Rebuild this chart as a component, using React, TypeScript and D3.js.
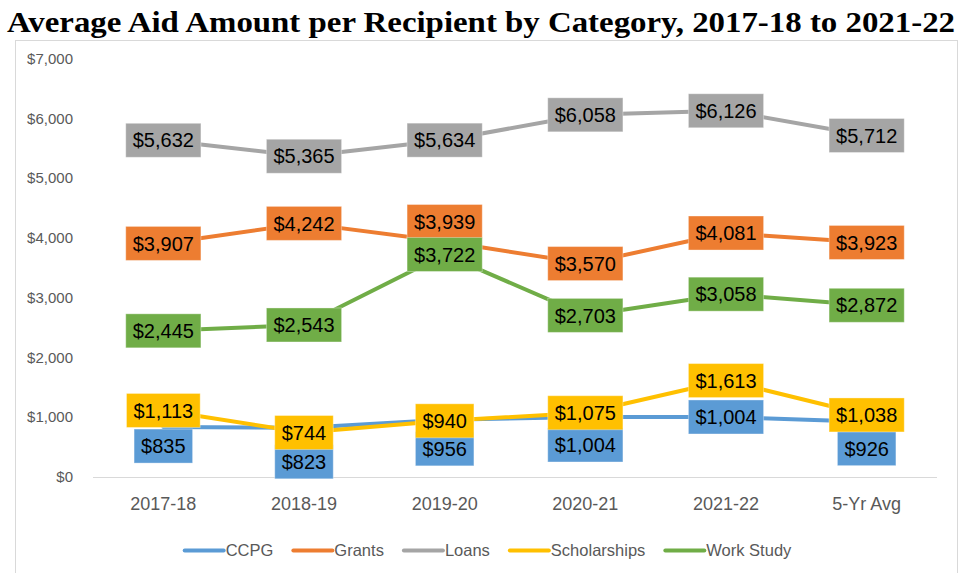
import React, { useEffect, useRef } from 'react';
import * as d3 from 'd3';

const categories = ['2017-18', '2018-19', '2019-20', '2020-21', '2021-22', '5-Yr Avg'];
const ccpg = [835, 823, 956, 1004, 1004, 926];
const grants = [3907, 4242, 3939, 3570, 4081, 3923];
const loans = [5632, 5365, 5634, 6058, 6126, 5712];
const scholarships = [1113, 744, 940, 1075, 1613, 1038];
const workStudy = [2445, 2543, 3722, 2703, 3058, 2872];
const seriesNames = ['CCPG', 'Grants', 'Loans', 'Scholarships', 'Work Study'];
const yTicks = [0, 1000, 2000, 3000, 4000, 5000, 6000, 7000];
const title = 'Average Aid Amount per Recipient by Category, 2017-18 to 2021-22';

// styling / layout (kept apart from the data)
const colors = ['#5B9BD5', '#ED7D31', '#A5A5A5', '#FFC000', '#70AD47'];
const labelShift = [
  [19, 34, 29, 28, 0, 27],
  [0, 0, -20, 0, 0, 0],
  [0, 0, 0, 0, 0, 0],
  [0, 0, 0, 0, 0, 0],
  [0, 0, 0, 0, 0, 0],
];

const W = 966;
const H = 573;
const FONT = '"Liberation Sans", Arial, sans-serif';

export default function App() {
  const ref = useRef<SVGSVGElement | null>(null);

  useEffect(() => {
    const svg = d3.select(ref.current);
    svg.selectAll('*').remove();

    const values = [ccpg, grants, loans, scholarships, workStudy];

    svg.append('rect').attr('width', W).attr('height', H).attr('fill', '#fff');

    // chart border
    svg.append('rect')
      .attr('x', 15.5).attr('y', 40.5).attr('width', 942).attr('height', 560)
      .attr('fill', 'none').attr('stroke', '#D9D9D9').attr('stroke-width', 1);

    // title
    svg.append('text')
      .attr('x', 7).attr('y', 32)
      .attr('font-family', '"Liberation Serif", "Times New Roman", serif')
      .attr('font-weight', 'bold').attr('font-size', 30)
      .attr('textLength', 948).attr('lengthAdjust', 'spacingAndGlyphs')
      .attr('fill', '#000')
      .text(title);

    const x = d3.scaleBand<string>().domain(categories).range([93, 937]);
    const cx = (c: string) => (x(c) as number) + x.bandwidth() / 2;
    const y = d3.scaleLinear().domain([0, 7000]).range([477, 58.5]);

    // y tick labels
    svg.append('g').selectAll('text').data(yTicks).join('text')
      .attr('x', 73).attr('y', (d) => y(d)).attr('dy', '0.35em')
      .attr('text-anchor', 'end')
      .attr('font-family', FONT).attr('font-size', 15).attr('fill', '#595959')
      .text((d) => d3.format('$,')(d));

    // axis line
    svg.append('line')
      .attr('x1', 93).attr('x2', 937)
      .attr('y1', y(0) + 0.5).attr('y2', y(0) + 0.5)
      .attr('stroke', '#D9D9D9').attr('stroke-width', 1);

    // x labels
    svg.append('g').selectAll('text').data(categories).join('text')
      .attr('x', (d) => cx(d)).attr('y', 510)
      .attr('text-anchor', 'middle')
      .attr('font-family', FONT).attr('font-size', 18).attr('fill', '#595959')
      .text((d) => d);

    // lines
    const line = d3.line<number>()
      .x((_, i) => cx(categories[i]))
      .y((d) => y(d));
    values.forEach((vals, s) => {
      svg.append('path')
        .attr('d', line(vals) as string)
        .attr('fill', 'none')
        .attr('stroke', colors[s])
        .attr('stroke-width', 4)
        .attr('stroke-linejoin', 'round')
        .attr('stroke-linecap', 'round');
    });

    // data labels
    const fmt = d3.format('$,');
    values.forEach((vals, s) => {
      vals.forEach((v, i) => {
        const px = cx(categories[i]);
        const py = y(v) + labelShift[s][i];
        const g = svg.append('g');
        const rect = g.append('rect');
        const t = g.append('text')
          .attr('x', px).attr('y', py).attr('dy', '0.36em')
          .attr('text-anchor', 'middle')
          .attr('font-family', FONT).attr('font-size', 20).attr('fill', '#000')
          .text(fmt(v));
        const tw = (t.node() as SVGTextElement).getComputedTextLength();
        const bw = tw + 14;
        rect.attr('x', px - bw / 2).attr('y', py - 17)
          .attr('width', bw).attr('height', 34)
          .attr('fill', colors[s])
          .attr('stroke', 'rgba(255,255,255,0.35)').attr('stroke-width', 1);
      });
    });

    // legend
    const lg = svg.append('g');
    const lineLen = 39;
    const gap = 20;
    let cursor = 0;
    seriesNames.forEach((name, s) => {
      const g = lg.append('g');
      g.append('line')
        .attr('x1', cursor).attr('x2', cursor + lineLen)
        .attr('y1', 550.5).attr('y2', 550.5)
        .attr('stroke', colors[s]).attr('stroke-width', 4)
        .attr('stroke-linecap', 'round');
      const t = g.append('text')
        .attr('x', cursor + lineLen + 2).attr('y', 550.5).attr('dy', '0.35em')
        .attr('font-family', FONT).attr('font-size', 16.5).attr('fill', '#595959')
        .text(name);
      const tw = (t.node() as SVGTextElement).getComputedTextLength();
      cursor += lineLen + 2 + tw + gap;
    });
    const total = cursor - gap;
    lg.attr('transform', `translate(${488 - total / 2},0)`);
  }, []);

  return (
    <svg
      ref={ref}
      width={W}
      height={H}
      style={{ position: 'absolute', left: 0, top: 0, display: 'block' }}
    />
  );
}
